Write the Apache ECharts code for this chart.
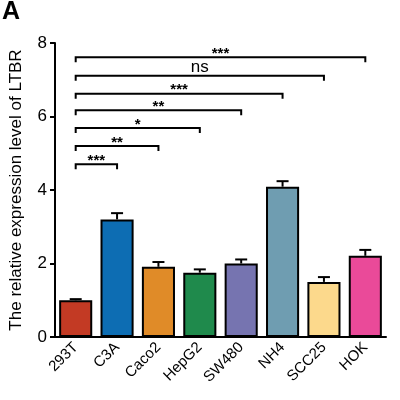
<!DOCTYPE html>
<html>
<head>
<meta charset="utf-8">
<script src="https://cdn.jsdelivr.net/npm/echarts@6/dist/echarts.min.js"></script>
<style>
  html, body { margin: 0; padding: 0; background: #fff; }
  #chart { width: 400px; height: 400px; }
</style>
</head>
<body>
<div id="chart"></div>
<script>
var categories = ['293T', 'C3A', 'Caco2', 'HepG2', 'SW480', 'NH4', 'SCC25', 'HOK'];
var values = [1.0, 3.2, 1.91, 1.75, 2.0, 4.09, 1.5, 2.21];
var errors = [0.03, 0.17, 0.13, 0.09, 0.11, 0.15, 0.13, 0.16];
var barColors = ['#c33a24', '#0d6db3', '#e08b28', '#1f8a4c', '#7674b0', '#6f9db1', '#fcd98c', '#ea4a99'];
var yTicks = [0, 2, 4, 6, 8];
// comparisons: [from index, to index, height, label]
var brackets = [
    [0, 1, 4.7, '***'],
    [0, 2, 5.2, '**'],
    [0, 3, 5.69, '*'],
    [0, 4, 6.17, '**'],
    [0, 5, 6.62, '***'],
    [0, 6, 7.11, 'ns'],
    [0, 7, 7.61, '***']
];

var font = 'Arial, "Liberation Sans", sans-serif';
var myChart = echarts.init(document.getElementById('chart'));

var option = {
    animation: false,
    graphic: [{
        type: 'text', left: 2, top: 0,
        style: {text: 'A', font: 'bold 25px ' + font, fill: '#000'}
    }],
    grid: {left: 51, right: 14, top: 43, bottom: 63},
    xAxis: {
        type: 'category',
        data: categories,
        axisLine: {lineStyle: {color: '#000', width: 2}},
        axisTick: {alignWithLabel: true, length: 5, lineStyle: {color: '#000', width: 2}},
        axisLabel: {rotate: 45, color: '#000', fontSize: 15, margin: 8, fontFamily: font}
    },
    yAxis: {
        type: 'value',
        min: 0, max: 8, interval: 2,
        name: 'The relative expression level of LTBR',
        nameLocation: 'middle',
        nameGap: 30,
        nameTextStyle: {color: '#000', fontSize: 17, fontFamily: font},
        axisLine: {show: true, lineStyle: {color: '#000', width: 2}},
        axisTick: {show: true, length: 5, lineStyle: {color: '#000', width: 2}},
        axisLabel: {
            color: '#000', fontSize: 17, margin: 8, fontFamily: font,
            formatter: function (v) { return yTicks.indexOf(v) >= 0 ? String(v) : ''; }
        },
        splitLine: {show: false}
    },
    series: [
        {
            type: 'bar',
            barWidth: '80%',
            data: values.map(function (v, i) {
                return {value: v, itemStyle: {color: barColors[i]}};
            }),
            itemStyle: {borderColor: '#000', borderWidth: 2},
            z: 2
        },
        {
            type: 'custom',
            data: values.map(function (v, i) { return [i, v, v + errors[i]]; }),
            renderItem: function (params, api) {
                var base = api.coord([api.value(0), api.value(1)]);
                var top = api.coord([api.value(0), api.value(2)]);
                var hw = 6;
                return {
                    type: 'group',
                    children: [
                        {type: 'line', shape: {x1: base[0], y1: base[1], x2: top[0], y2: top[1]},
                            style: {stroke: '#000', lineWidth: 2}},
                        {type: 'line', shape: {x1: top[0] - hw, y1: top[1], x2: top[0] + hw, y2: top[1]},
                            style: {stroke: '#000', lineWidth: 2}}
                    ]
                };
            },
            z: 1
        },
        {
            type: 'custom',
            data: brackets,
            renderItem: function (params, api) {
                var p1 = api.coord([api.value(0), api.value(2)]);
                var p2 = api.coord([api.value(1), api.value(2)]);
                var label = brackets[params.dataIndex][3];
                var isNs = label === 'ns';
                return {
                    type: 'group',
                    children: [
                        {type: 'polyline', shape: {points: [[p1[0], p1[1] + 5], [p1[0], p1[1]], [p2[0], p2[1]], [p2[0], p2[1] + 5]]},
                            style: {stroke: '#000', lineWidth: 2, fill: null}},
                        {type: 'text', x: (p1[0] + p2[0]) / 2, y: p1[1] + (isNs ? 0 : 4),
                            style: {text: label, textAlign: 'center', textVerticalAlign: 'bottom',
                                font: (isNs ? '17px ' : 'bold 15px ') + font, fill: '#000'}}
                    ]
                };
            },
            z: 3
        }
    ]
};

myChart.setOption(option);
</script>
</body>
</html>
